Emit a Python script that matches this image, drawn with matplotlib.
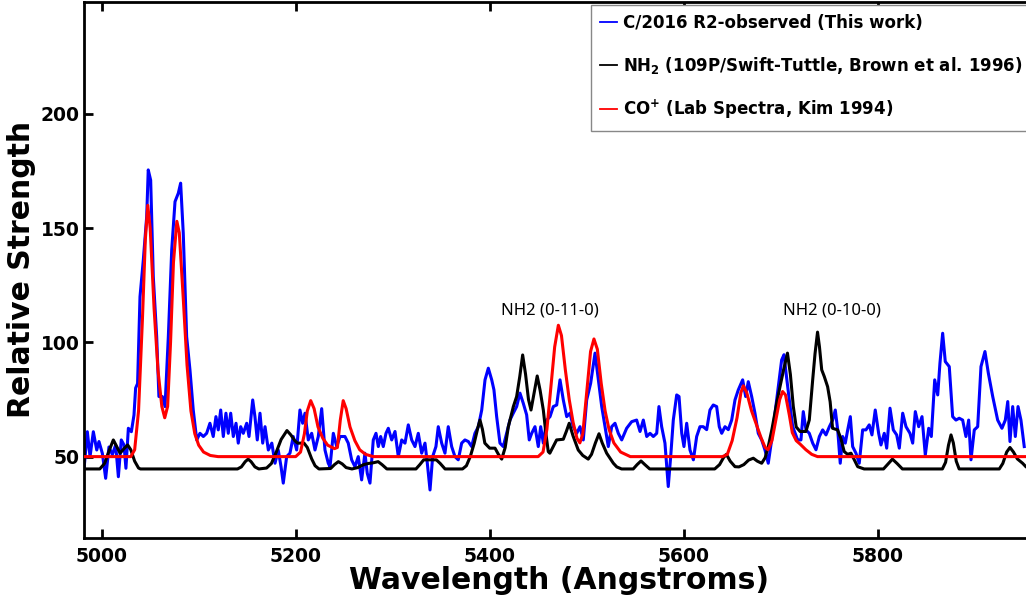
import matplotlib
matplotlib.use("Agg")
import matplotlib.pyplot as plt
from matplotlib.lines import Line2D

# observed spectrum of C/2016 R2
blue_wl = [4982, 4985.2, 4988, 4991.4, 4994.9, 4997.2, 5000.7, 5004.1, 5007.5, 5011,
           5014.4, 5017.2, 5020.2, 5023, 5025, 5027.5, 5030.6, 5033.3, 5035, 5037,
           5039.5, 5042.9, 5046.4, 5048, 5050.5, 5053.2, 5056.7, 5059, 5062.5, 5065.3,
           5068.7, 5072.2, 5075.6, 5079, 5081.4, 5084.1, 5087.6, 5091, 5094.4, 5098,
           5101.3, 5104.8, 5108.2, 5111.6, 5115, 5117.8, 5120.2, 5122.7, 5125.4, 5128.1,
           5130.5, 5133, 5135.7, 5138.5, 5140.8, 5143.3, 5146, 5149.5, 5151.9, 5155.7,
           5158, 5160.4, 5163.2, 5166, 5168.4, 5171.8, 5175.4, 5178.7, 5182, 5184.9,
           5187.2, 5190.7, 5194.1, 5197.5, 5201, 5204.4, 5207.2, 5209.6, 5213, 5216.5,
           5219.9, 5223.3, 5226.8, 5230.2, 5233.6, 5235.4, 5238.8, 5242.3, 5245.7, 5250.8,
           5254.2, 5257.7, 5261.1, 5264.5, 5268, 5271.4, 5273.8, 5276.6, 5280, 5282.8,
           5285.2, 5287.6, 5290.3, 5293.1, 5295.5, 5299, 5302.4, 5305.8, 5309.3, 5312.7,
           5316.1, 5319.6, 5323, 5326.4, 5329.9, 5333.3, 5335.7, 5338.5, 5341.2, 5344.6,
           5347, 5350.5, 5353.9, 5357.3, 5360.8, 5364.2, 5367.6, 5371.1, 5374.5, 5378,
           5381.4, 5384.8, 5388.3, 5391.8, 5395.2, 5398.6, 5402.1, 5404.4, 5407.2, 5410.6,
           5414, 5417.5, 5420.9, 5424.3, 5427.8, 5431.2, 5434.6, 5438.1, 5440.8, 5443.3,
           5446.7, 5450.1, 5452.6, 5455.3, 5458.8, 5462.2, 5465.6, 5469.1, 5472.5, 5475.9,
           5479.4, 5482.8, 5486.2, 5489.7, 5493.1, 5496.5, 5500, 5504.1, 5508.6, 5512,
           5515.5, 5518.9, 5522.3, 5525.8, 5529.2, 5532.6, 5536.1, 5541.2, 5546.4, 5551.5,
           5555, 5558.4, 5561.9, 5565.3, 5568.7, 5572.2, 5574.5, 5577.3, 5580.7, 5582.5,
           5584.1, 5586.6, 5589.3, 5592.8, 5595.2, 5598, 5600.3, 5603.1, 5606.5, 5610,
           5613.4, 5616.8, 5620.2, 5623.7, 5627.1, 5630.5, 5634, 5636.7, 5639.2, 5642.6,
           5646, 5649.5, 5652.9, 5656.3, 5660.8, 5663.9, 5666.6, 5670.1, 5673.5, 5676.9,
           5680.4, 5683.8, 5687.2, 5690.7, 5695.9, 5701, 5703.4, 5706, 5708.9, 5712.4,
           5717.5, 5720.9, 5723.3, 5726.1, 5729.5, 5733, 5736.4, 5739.9, 5743.3, 5746.7,
           5750.2, 5753.6, 5756.3, 5758.8, 5761.4, 5763.9, 5766.6, 5769.1, 5771.8, 5774.2,
           5777.6, 5781, 5784.5, 5787.9, 5791.3, 5794.1, 5797.5, 5801, 5803.4, 5806.8,
           5809.3, 5812.7, 5816.1, 5819.6, 5822.3, 5825.8, 5829.2, 5833.3, 5836.1, 5838.8,
           5842.3, 5845.7, 5849.1, 5852.6, 5855.3, 5858.8, 5861.9, 5864.2, 5867, 5869.7,
           5873.8, 5877.3, 5880.7, 5884.1, 5887.6, 5891, 5893.8, 5896.2, 5899.6, 5903.1,
           5906.5, 5910.6, 5914.1, 5918.6, 5923.7, 5928.1, 5931.6, 5934.1, 5936.4, 5939.2,
           5941.9, 5944.7, 5947.7, 5951.1]
blue_val = [45.6, 60.9, 50, 60.9, 52.9, 56.6, 51.4, 40.5, 54.2, 50.9,
            55.1, 41.2, 57.3, 55.1, 44.9, 62.4, 60.9, 68.2, 80, 82,
            120, 136, 155, 175.5, 171, 128.8, 102.5, 76.3, 76.3, 71.9,
            102.5, 140.5, 161.6, 165.3, 169.7, 147.8, 102.5, 88, 70.4, 57.3,
            60.2, 58.8, 60.2, 64.6, 58.8, 67.5, 61.7, 70.4, 58.8, 69,
            60.2, 69, 58.8, 64.6, 55.9, 63.1, 60.2, 64.6, 58.8, 74.8,
            67.5, 57.3, 69, 55.9, 63.1, 52.9, 55.9, 47.1, 52.9, 45.6,
            38.4, 50, 51.5, 58.8, 52.9, 70.4, 64.6, 69, 57.3, 60.2,
            52.9, 58.8, 71, 52.9, 47.1, 45.6, 60.2, 54.4, 58.8, 58.8,
            55.9, 48.6, 45.6, 50, 39.8, 51.5, 42.7, 38.4, 57.3, 60.2,
            54.4, 58.8, 54.4, 60.2, 62.4, 57.3, 61, 50, 57.3, 55.9,
            63.9, 57.3, 54.4, 60.2, 51.5, 55.9, 47.1, 35.4, 50, 54.4,
            63.1, 55.9, 51.5, 63.1, 54.4, 50, 48.6, 55.9, 57.3, 56.6,
            54.4, 60.2, 63.1, 70.4, 83.6, 88.7, 83.6, 79.2, 67.5, 55.9,
            54.4, 60.2, 66, 69, 71.9, 77.8, 73.4, 68.3, 57.3, 60.2,
            63.1, 54.4, 63.1, 55.9, 66, 67.5, 71.9, 72.6, 83.6, 74.8,
            67.5, 69, 63.1, 60.2, 63.1, 57.3, 74.8, 82.1, 95.3, 83.6,
            71.9, 63.1, 54.4, 63.1, 64.6, 60.2, 57.3, 62.4, 65.3, 66,
            61, 66, 58.8, 60.2, 58.8, 60.2, 71.9, 63.1, 55.9, 45.6,
            36.9, 50, 66, 77, 76.3, 60.2, 54.4, 64.6, 52.9, 48.6,
            58.8, 63.1, 63.1, 61.8, 70.4, 72.6, 71.9, 63.1, 60.2, 63.1,
            61.8, 66, 74.8, 79.2, 83.6, 76.3, 82.8, 76.3, 69, 60.2,
            57.3, 52.9, 47.1, 57.3, 74.8, 92.3, 94.6, 85, 74.8, 63.1,
            57.3, 57.3, 69.7, 61.7, 60.2, 55.9, 53, 58.8, 61.7, 59.5,
            63.1, 66, 70.4, 61.7, 47.1, 58.8, 55.9, 61.7, 67.5, 54.4,
            51.5, 47.1, 61.7, 61.7, 63.9, 59.5, 70.4, 60.2, 55.1, 60.2,
            53.7, 71.2, 61.7, 59.5, 53.7, 69, 63.1, 60.2, 55.9, 69.7,
            63.1, 67.5, 50.7, 62.4, 58.8, 83.6, 77, 90.9, 104, 91.6,
            89.4, 67.5, 66, 66.8, 66, 58.8, 66, 48.6, 61.7, 63.1,
            89.4, 96, 86.5, 76.3, 66, 62.4, 66, 74.1, 56.6, 71.9,
            58.8, 71.9, 66, 54.4]

# NH2 spectrum, 109P/Swift-Tuttle
black_wl = [4982, 4998, 5003, 5008, 5012, 5016, 5019, 5023, 5026.8, 5030,
            5034, 5038, 5040, 5140, 5144, 5148, 5151, 5154, 5158, 5162,
            5170, 5175, 5180, 5185, 5191, 5195, 5199, 5202, 5208.6, 5212,
            5216.5, 5220, 5224, 5236, 5240, 5244, 5248, 5252, 5258, 5264,
            5270, 5275, 5280, 5285, 5289, 5294, 5324, 5328, 5332, 5345,
            5349, 5354, 5372, 5376, 5380, 5384, 5388, 5390, 5392.5, 5395,
            5400, 5405.5, 5409, 5412.4, 5416, 5419.2, 5424.4, 5427.8, 5431, 5434,
            5437, 5440, 5442.6, 5445, 5449, 5452, 5455.3, 5458, 5460.4, 5462,
            5465, 5469, 5475.9, 5479, 5482, 5486, 5491.3, 5496, 5501.6, 5505,
            5509, 5512.7, 5516, 5520.6, 5527.5, 5531, 5536, 5548, 5552, 5556,
            5560, 5565, 5632, 5637, 5641, 5644, 5648, 5652.9, 5657, 5662,
            5667, 5671.8, 5676, 5680.4, 5684, 5687.2, 5691, 5695.9, 5699, 5703,
            5707, 5710, 5713, 5716, 5720, 5726, 5729.5, 5733, 5735.4, 5738,
            5740, 5742.3, 5745, 5748.4, 5751, 5753.5, 5758.7, 5762, 5765.5, 5769,
            5772.5, 5776, 5779.4, 5786, 5806, 5810, 5815.2, 5820, 5825.5, 5866.7,
            5870, 5873, 5875.6, 5878, 5881, 5884, 5925.4, 5929, 5933, 5936.4,
            5940, 5944, 5949.4, 5953, 5958, 5968]
black_val = [44.6, 44.6, 47, 53, 57.3, 54, 51.5, 53.5, 55.1, 53,
             48, 45, 44.6, 44.6, 45.5, 47.8, 48.9, 47.8, 45.5, 44.6,
             45, 47, 52, 57.5, 61.4, 59.5, 57, 55.9, 55.9, 54,
             49, 46, 44.6, 44.8, 46.5, 47.8, 46.8, 45.2, 44.6, 45.2,
             46.5, 47, 47.3, 47.8, 46.5, 44.6, 44.6, 46.5, 48.6, 48.6,
             47, 44.6, 44.6, 46, 50, 55.8, 63, 66, 62, 55.9,
             53.7, 53.7, 51, 48.9, 54, 63, 71.9, 76.3, 85, 94.5,
             86, 75, 70.4, 76, 85.3, 79, 70.4, 60, 52.2, 51.5,
             54, 57.3, 57.6, 61, 64.6, 59, 52.9, 50.5, 48.9, 51,
             56, 60, 56, 51.5, 47.1, 45.5, 44.6, 44.6, 46.5, 48.1,
             46.5, 44.6, 44.6, 46.5, 49.5, 51, 48, 45.6, 45.5, 46.5,
             48.5, 49.3, 48, 47.1, 49.5, 54.4, 62, 73.4, 80, 88,
             95.3, 86, 72, 63, 61, 61, 66, 83.6, 95, 104.5,
             98, 88, 85, 80.6, 74, 62.4, 61.7, 58, 52.2, 51,
             51.5, 48.5, 45.6, 44.6, 44.6, 46.5, 48.9, 47, 44.6, 44.6,
             47.5, 55, 59.5, 56, 48, 44.6, 44.6, 47, 52, 54,
             52, 49, 47.1, 45.5, 44.6, 44.6]

# CO+ lab spectrum, Kim 1994
red_wl = [4982, 5030, 5034, 5038, 5042, 5045, 5047.5, 5050, 5054, 5058,
          5062, 5065, 5068, 5071, 5074, 5077.5, 5080, 5084, 5088, 5092,
          5096, 5100, 5105, 5112, 5120, 5200, 5205, 5209, 5212, 5215.5,
          5219, 5223, 5228, 5233, 5240, 5243, 5246, 5249, 5252, 5256,
          5261, 5266, 5272, 5280, 5450, 5455, 5459, 5463, 5467, 5470.8,
          5474, 5478, 5482, 5486, 5490, 5493, 5496, 5500, 5504, 5507.5,
          5511, 5515, 5519, 5523, 5528, 5535, 5545, 5640, 5645, 5650,
          5655, 5659, 5661.5, 5665, 5670, 5675, 5680, 5684, 5687, 5691,
          5695, 5699, 5702, 5705, 5709, 5712, 5716, 5720, 5726, 5732,
          5738, 5968]
red_val = [50, 50, 53, 70, 110, 145, 160, 150, 115, 88,
           72, 67, 72, 100, 135, 153, 148, 120, 90, 70,
           60, 55, 52, 50.5, 50, 50, 52, 60, 70, 74.5,
           71, 63, 58, 55, 53.5, 54, 66, 74.5, 71, 63,
           57, 53, 51, 50, 50, 52, 62, 80, 98, 107.5,
           103, 88, 75, 65, 58, 56, 60, 78, 96, 101.5,
           97, 82, 70, 62, 56, 52, 50, 50, 51, 57,
           67, 78, 81, 78, 70, 64, 58, 54, 53, 57,
           66, 75, 78.5, 77, 68, 60.5, 57, 55.5, 53, 51,
           50, 50]

x_ticks = [5000, 5200, 5400, 5600, 5800]
y_ticks = [50, 100, 150, 200]

fig = plt.figure(figsize=(10.26, 6.0), dpi=100)
# right edge of the axes sits just outside the picture, as in the original
ax = fig.add_axes([0.0819, 0.1038, 0.9317, 0.8929])

ax.plot(blue_wl, blue_val, color="#0000ff", lw=2.2, zorder=2)
ax.plot(black_wl, black_val, color="black", lw=2.2, zorder=3)
ax.plot(red_wl, red_val, color="#ff0000", lw=2.2, zorder=4)

ax.set_xlim(4981.8, 5967.3)
ax.set_ylim(14.5, 249)
ax.set_xticks(x_ticks)
ax.set_yticks(y_ticks)
ax.tick_params(direction="in", length=6.5, width=2, top=True, right=True,
               labelsize=13.5)
ax.tick_params(axis="x", pad=7)
ax.tick_params(axis="y", pad=3)
for lab in ax.get_xticklabels() + ax.get_yticklabels():
    lab.set_fontweight("bold")
for sp in ax.spines.values():
    sp.set_linewidth(2)

ax.set_xlabel("Wavelength (Angstroms)", fontsize=21.5, fontweight="bold")
ax.set_ylabel("Relative Strength", fontsize=21.5, fontweight="bold")
ax.xaxis.set_label_coords(0.497, -0.053)
ax.yaxis.set_label_coords(-0.050, 0.5)

ax.text(5462, 114, "NH2 (0-11-0)", family="Noto Sans", fontweight="bold",
        fontsize=12, ha="center", va="center")
ax.text(5753, 114, "NH2 (0-10-0)", family="Noto Sans", fontweight="bold",
        fontsize=12, ha="center", va="center")

handles = [Line2D([], [], color="#0000ff", lw=1.3),
           Line2D([], [], color="black", lw=1.3),
           Line2D([], [], color="#ff0000", lw=1.3)]
labels = ["C/2016 R2-observed (This work)",
          r"NH$_{\mathbf{2}}$ (109P/Swift-Tuttle, Brown et al. 1996)",
          r"CO$^{\mathbf{+}}$ (Lab Spectra, Kim 1994)"]
leg = ax.legend(handles, labels, loc="upper left",
                bbox_to_anchor=(591 / 1026, 1 - 5 / 600),
                bbox_transform=fig.transFigure, borderaxespad=0,
                fancybox=False, prop={"weight": "bold", "size": 12},
                handlelength=1.0, handletextpad=0.35, labelspacing=1.35,
                borderpad=0.55, framealpha=1)
leg.get_frame().set_edgecolor("#888888")
leg.get_frame().set_linewidth(1.0)

fig.savefig("out.png", dpi=100)
